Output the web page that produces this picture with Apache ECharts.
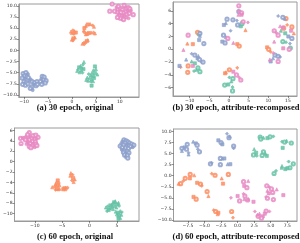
<!DOCTYPE html>
<html><head><meta charset="utf-8">
<script src="https://cdn.jsdelivr.net/npm/echarts@6/dist/echarts.min.js"></script>
<style>html,body{margin:0;padding:0;background:#fff}#c{width:300px;height:243px}</style>
</head><body><div id="c"></div>
<script>
// ---------- (a) 30 epoch, original ----------
const aPink = [[8.4,10.4],[7.9,8.8],[9.3,9.7],[9.6,9.2],[10.1,9.4],[10.5,9.1],[11.0,9.8],[11.4,9.5],[11.8,9.6],[12.1,9.3],[11.6,8.9],[11.2,8.6],[10.7,8.4],[10.2,8.5],[9.8,8.2],[9.4,8.6],[9.9,7.7],[10.4,7.6],[10.9,7.9],[11.5,8.1],[12.0,8.3],[12.8,8.0],[11.3,7.4],[10.6,7.1],[10.1,7.2],[9.5,7.4],[11.8,7.2],[10.8,6.9],[9.7,9.9],[10.9,10.1],[12.3,8.9],[8.9,8.8]];
const aOrange = [[-0.2,4.2],[0.2,4.5],[0.5,4.3],[0.8,4.0],[0.0,3.9],[0.4,3.7],[0.0,2.4],[0.3,2.7],[0.6,2.9],[0.2,2.2],[2.9,5.5],[3.3,5.8],[3.8,5.9],[4.3,5.6],[4.6,5.3],[2.6,5.0],[2.5,4.5],[2.6,4.0],[2.9,3.6],[3.5,3.9],[4.0,4.0],[4.5,4.0],[4.8,3.8],[3.2,3.7],[2.2,1.5],[2.5,1.7],[2.8,1.9],[3.1,2.1],[3.3,2.3],[2.6,1.4]];
const aGreen = [[2.5,-2.6],[2.3,-3.2],[1.8,-3.5],[1.5,-3.8],[2.1,-3.9],[1.3,-4.3],[1.9,-4.5],[2.4,-4.2],[1.6,-4.9],[2.2,-5.0],[1.1,-4.6],[4.8,-3.6],[5.0,-4.2],[4.5,-4.5],[4.2,-5.0],[4.8,-5.1],[5.3,-5.4],[3.5,-5.3],[3.9,-5.6],[4.4,-5.8],[3.2,-6.1],[3.7,-6.3],[4.1,-6.5],[4.6,-6.2],[3.4,-6.8],[4.0,-7.0],[4.4,-6.9],[4.1,-7.9],[3.0,-6.6]];
const aBlue = [[-10.2,-5.2],[-9.6,-5.0],[-9.2,-5.3],[-9.9,-5.7],[-9.4,-5.9],[-10.4,-6.2],[-9.8,-6.4],[-9.1,-6.1],[-10.0,-7.0],[-9.5,-7.2],[-8.9,-6.8],[-10.3,-7.6],[-9.7,-7.8],[-9.2,-7.5],[-8.6,-6.5],[-8.3,-7.0],[-7.8,-7.2],[-7.3,-7.0],[-8.0,-7.7],[-7.5,-7.9],[-8.4,-8.2],[-8.7,-8.5],[-8.2,-8.9],[-7.2,-7.6],[-6.2,-5.8],[-5.8,-6.0],[-6.4,-6.4],[-5.9,-6.6],[-5.4,-6.8],[-6.6,-7.0],[-6.1,-7.2],[-5.6,-7.3],[-6.3,-7.6]];
// ---------- (b) 30 epoch, attribute-recomposed ----------
const bGreen = [[-7.6,2.4],[-9.5,-1.9],[-8.7,-2.2],[-7.9,-2.9],[-8.9,-3.4],[-7.4,-3.5],[-8.3,-3.2],[3.0,3.6],[3.3,4.0],[0.1,-4.4],[1.0,-4.6],[0.6,-5.0],[-0.2,-5.5],[-1.1,-5.6],[0.9,-5.9],[0.9,-6.5],[13.2,2.9],[14.3,2.5],[13.7,1.2],[14.5,1.1],[15.6,0.2]];
const bOrange = [[-8.0,2.65],[-10.6,0.9],[-9.2,0.8],[-10.4,-2.6],[-12.3,-2.8],[-10.5,-3.6],[4.2,3.0],[2.1,0.8],[2.6,0.5],[2.1,-2.9],[0.1,-3.2],[-0.8,-3.6],[-1.0,-3.75],[14.5,4.8],[14.8,3.8],[16.0,3.5],[16.5,2.5],[9.7,0.3],[10.1,0.0],[10.6,-0.4],[13.9,3.3]];
const bBlue = [[-7.4,2.5],[-7.4,2.1],[-7.6,1.45],[-6.4,0.9],[-9.5,-0.7],[-8.7,-0.9],[-7.8,-1.05],[-8.0,-1.4],[-7.5,-1.6],[-7.0,-2.0],[-6.6,-2.0],[-10.9,-1.6],[-12.6,-2.6],[1.0,4.6],[2.0,4.5],[-0.5,4.7],[-0.8,4.1],[-1.3,3.8],[2.2,3.8],[0.4,2.9],[-1.4,2.2],[-0.8,1.9],[-1.7,1.2],[-1.0,1.0],[12.5,5.2],[13.7,5.0],[14.2,4.8],[15.1,2.0],[16.0,1.7],[15.5,0.9],[11.7,-0.9],[11.2,-1.4],[10.6,-1.9],[12.5,-1.1],[13.0,-1.2],[2.5,5.9]];
const bPink = [[-10.4,2.2],[-11.6,-0.1],[-9.2,-2.6],[2.5,6.8],[2.4,6.0],[3.2,5.7],[2.4,5.4],[3.2,5.4],[3.6,4.3],[4.8,4.2],[-0.3,1.7],[1.1,1.0],[1.1,-3.5],[1.9,-4.0],[2.6,-4.4],[3.0,-4.8],[13.0,3.6],[13.8,3.4],[11.5,2.9],[12.0,2.6],[12.5,2.2],[11.5,1.2],[13.8,0.15],[15.3,0.0],[11.3,-0.6],[12.5,-1.9],[10.4,-1.6],[15.8,2.9]];
// ---------- (c) 60 epoch, original ----------
const cPink = [[-11.0,5.6],[-12.6,4.5],[-12.2,4.6],[-11.8,4.5],[-11.5,4.7],[-11.2,4.9],[-10.8,4.8],[-10.3,5.0],[-9.8,5.1],[-9.4,4.7],[-9.7,4.4],[-10.1,4.3],[-10.6,4.4],[-11.0,4.2],[-11.4,4.0],[-11.7,4.2],[-10.4,3.9],[-9.9,3.8],[-11.2,3.6],[-10.8,3.5],[-10.3,3.3],[-9.8,3.4],[-11.5,3.4],[-12.5,3.5],[-10.5,3.0],[-11.0,2.9],[-10.0,2.8],[-10.7,2.7],[-9.6,3.1],[-11.3,5.2]];
const cBlue = [[6.3,4.2],[6.7,4.0],[6.0,3.9],[7.0,3.8],[7.3,3.6],[6.5,3.6],[5.8,3.5],[7.7,3.4],[8.1,3.2],[7.2,3.1],[6.8,3.3],[6.2,3.2],[5.6,3.0],[7.5,2.9],[7.9,2.8],[6.0,2.7],[6.6,2.6],[7.1,2.5],[5.9,2.3],[6.4,2.1],[6.9,2.0],[6.2,1.8],[6.7,1.6],[7.2,1.7],[6.4,1.3],[6.9,1.2],[6.6,0.9],[7.0,0.7]];
const cOrange = [[-3.4,-2.2],[-3.1,-2.5],[-3.5,-2.7],[-3.0,-3.1],[-2.7,-3.4],[-3.2,-3.6],[-2.9,-3.9],[-5.8,-3.6],[-6.0,-3.9],[-5.6,-4.1],[-6.2,-4.3],[-5.9,-4.6],[-5.5,-4.5],[-6.4,-4.8],[-6.8,-4.9],[-6.0,-5.2],[-5.7,-5.3],[-6.2,-5.4],[-5.5,-5.2],[-4.6,-5.1],[-4.3,-5.0],[-4.0,-5.0],[-4.4,-5.3],[-4.8,-5.3]];
const cGreen = [[3.0,-8.8],[3.3,-8.6],[3.6,-8.9],[3.8,-8.4],[4.1,-8.2],[4.4,-8.0],[4.7,-7.6],[4.5,-7.8],[4.2,-8.6],[3.9,-9.0],[4.6,-8.5],[5.0,-8.2],[5.3,-7.9],[5.4,-8.5],[4.9,-8.8],[3.5,-9.3],[4.3,-9.1],[3.2,-9.5],[4.8,-9.6],[5.2,-9.8],[5.6,-9.5],[5.9,-9.7],[5.0,-10.1],[5.4,-10.3],[5.8,-10.2],[5.2,-10.6],[5.6,-10.8],[5.3,-11.0]];
// ---------- (d) 60 epoch, attribute-recomposed ----------
const dBlue = [[-8.4,6.2],[-8.4,5.6],[-8.0,6.4],[-7.7,6.0],[-7.4,5.2],[-7.6,7.1],[-6.7,7.7],[-6.3,7.3],[-6.1,6.9],[-6.0,6.0],[-5.75,5.4],[-7.4,4.8],[-2.9,8.0],[-2.5,7.5],[-1.6,9.5],[-1.3,8.6],[-1.2,8.9],[-2.3,7.1],[-0.6,6.7],[-0.6,6.2],[-2.6,3.9],[-2.3,3.9],[-2.0,3.9],[-4.1,2.7],[-3.9,2.9],[-2.6,2.5],[-1.5,2.6],[-1.1,2.6]];
const dGreen = [[3.4,8.75],[3.9,8.6],[4.5,8.5],[4.9,8.8],[5.4,8.9],[3.5,8.3],[2.5,6.0],[2.8,5.2],[2.4,4.7],[2.9,4.5],[3.9,5.4],[4.2,5.0],[4.4,4.5],[3.7,4.6],[6.7,7.7],[7.1,7.6],[7.4,7.9],[6.8,6.3],[8.1,7.4],[7.7,3.2],[8.4,2.7],[6.65,1.8],[7.2,1.5],[7.9,1.8],[5.8,1.1],[5.5,0.5],[6.7,2.2],[7.5,1.7]];
const dOrange = [[-7.15,0.3],[-6.55,0.1],[-7.2,-0.6],[-7.9,-0.6],[-8.2,-1.2],[-8.6,-1.8],[-8.9,-1.8],[-6.1,-1.6],[-5.6,-1.9],[-5.4,-2.3],[-4.6,-3.6],[-4.4,-4.6],[-6.65,-4.8],[-6.25,-5.3],[-3.9,0.45],[-3.4,0.1],[-2.4,-0.6],[-2.2,-1.8],[-1.4,0.3],[-3.6,-7.8],[-3.3,-8.1],[-3.0,-8.7],[-2.9,-8.4],[-0.9,-8.1],[-0.7,-9.5]];
const dPink = [[0.9,-1.35],[1.6,-1.2],[1.0,-2.3],[1.4,-2.7],[0.9,-4.1],[1.1,-4.6],[1.0,-5.3],[0.0,-4.6],[0.3,-5.7],[-1.0,-5.0],[1.5,-5.5],[1.6,-5.3],[2.4,-5.9],[4.4,-2.3],[4.8,-2.6],[5.1,-3.0],[4.5,-3.4],[4.7,-4.0],[5.3,-3.8],[4.3,-4.8],[4.5,-5.1],[5.9,-3.1],[6.9,-4.4],[5.4,-5.4],[2.6,-8.1],[3.1,-9.2],[3.3,-8.6],[3.8,-9.2],[4.3,-8.0],[4.8,-8.1],[3.6,-9.6],[3.0,-8.8],[4.1,-8.6]];
// ---------- tick values ----------
const aXTicks = [-10,-5,0,5,10];
const aYTicks = [-10,-7.5,-5,-2.5,0,2.5,5,7.5,10];
const bXTicks = [-10,-5,0,5,10,15];
const bYTicks = [-6,-4,-2,0,2,4,6];
const cXTicks = [-10,-5,0,5];
const cYTicks = [-10,-8,-6,-4,-2,0,2,4,6];
const dXTicks = [-7.5,-5,-2.5,0,2.5,5,7.5];
const dYTicks = [-10,-7.5,-5,-2.5,0,2.5,5,7.5,10];
const captions = ['(a) 30 epoch, original','(b) 30 epoch, attribute-recomposed','(c) 60 epoch, original','(d) 60 epoch, attribute-recomposed'];

const COL = {green:'#66c2a5', orange:'#fc8d62', blue:'#8da0cb', pink:'#e78ac3'};
const grids = [
  {left:13.5, top:4, width:125.5, height:93},
  {left:173, top:2, width:124, height:94},
  {left:14, top:128, width:125, height:93},
  {left:173.5, top:129, width:123.5, height:92}
];
const ranges = [
  {x:[-11.1,14.0], y:[-10.45,10.4], xt:aXTicks, yt:aYTicks, xd:0, yd:1},
  {x:[-14.25,17.3], y:[-7.3,7.39], xt:bXTicks, yt:bYTicks, xd:0, yd:0},
  {x:[-13.7,9.04], y:[-11.4,6.48], xt:cXTicks, yt:cYTicks, xd:0, yd:0},
  {x:[-9.67,8.96], y:[-10.25,10.57], xt:dXTicks, yt:dYTicks, xd:1, yd:1}
];
function fmt(v,d){const s=Math.abs(v).toFixed(d);return (v<0?'\u2212':'')+s;}
function axis(gi,r,t,d){
  return {gridIndex:gi,type:'value',min:r[0],max:r[1],scale:true,
    axisLine:{show:true,onZero:false,lineStyle:{color:'#9a9a9a',width:1}},
    axisTick:{show:true,length:2,customValues:t,lineStyle:{color:'#444',width:0.6}},
    axisLabel:{fontSize:4.5,color:'#333',margin:2,customValues:t,fontFamily:'DejaVu Sans',formatter:v=>fmt(v,d)},
    splitLine:{show:false}};
}
const xAxis=[], yAxis=[];
ranges.forEach((r,i)=>{xAxis.push(axis(i,r.x,r.xt,r.xd)); yAxis.push(axis(i,r.y,r.yt,r.yd));});

const hollow = ['emptyCircle','emptyCircle','circle','emptyCircle'];
const filled = ['triangle','diamond','triangle','rect'];
const mixed = ['emptyCircle','triangle','rect','emptyCircle','diamond'];
function ser(gi,data,color,syms,size){
  return {type:'scatter',xAxisIndex:gi,yAxisIndex:gi,data:data,
    symbol:(v,p)=>syms[p.dataIndex%syms.length],symbolSize:size||3.2,
    itemStyle:{color:color,borderColor:color,borderWidth:0.7,opacity:0.85},silent:true,animation:false};
}
const series=[
  ser(0,aPink,COL.pink,hollow),ser(0,aOrange,COL.orange,filled),ser(0,aGreen,COL.green,filled),ser(0,aBlue,COL.blue,hollow),
  ser(1,bGreen,COL.green,mixed),ser(1,bOrange,COL.orange,mixed),ser(1,bBlue,COL.blue,mixed),ser(1,bPink,COL.pink,mixed),
  ser(2,cPink,COL.pink,hollow),ser(2,cBlue,COL.blue,hollow),ser(2,cOrange,COL.orange,filled),ser(2,cGreen,COL.green,filled),
  ser(3,dBlue,COL.blue,mixed),ser(3,dGreen,COL.green,mixed),ser(3,dOrange,COL.orange,mixed),ser(3,dPink,COL.pink,mixed)
];
const capPos=[[75,108],[236,108],[75,237],[236,237]];
const graphic = captions.map((t,i)=>({type:'text',x:capPos[i][0],y:capPos[i][1],
  style:{text:t,fontSize:8.5,fontWeight:'bold',fontFamily:'Liberation Serif',fill:'#111',align:'center',verticalAlign:'middle'}}));

const chart = echarts.init(document.getElementById('c'),null,{renderer:'canvas'});
chart.setOption({
  animation:false,
  grid:grids.map(g=>Object.assign({show:true,borderColor:'#9a9a9a',borderWidth:1,backgroundColor:'transparent'},g)),
  xAxis:xAxis,yAxis:yAxis,series:series,graphic:graphic
});
</script></body></html>
